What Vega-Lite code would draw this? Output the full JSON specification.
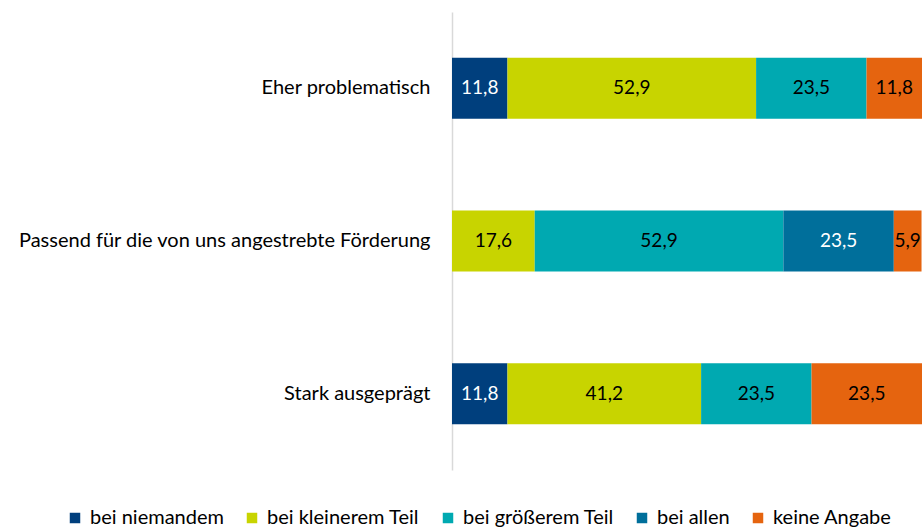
{
  "$schema": "https://vega.github.io/schema/vega-lite/v6.json",
  "width": 470,
  "height": 458,
  "autosize": {"type": "none"},
  "padding": {"left": 452, "top": 12, "right": 0, "bottom": 59},
  "background": "white",
  "config": {
    "view": {"stroke": null},
    "font": "Lato",
    "locale": {"number": {"decimal": ",", "thousands": ".", "grouping": [3], "currency": ["", " €"]}}
  },
  "data": {
    "values": [
      {"aussage": "Eher problematisch", "kategorie": "bei niemandem", "ord": 1, "wert": 11.8},
      {"aussage": "Eher problematisch", "kategorie": "bei kleinerem Teil", "ord": 2, "wert": 52.9},
      {"aussage": "Eher problematisch", "kategorie": "bei größerem Teil", "ord": 3, "wert": 23.5},
      {"aussage": "Eher problematisch", "kategorie": "keine Angabe", "ord": 5, "wert": 11.8},
      {"aussage": "Passend für die von uns angestrebte Förderung", "kategorie": "bei kleinerem Teil", "ord": 2, "wert": 17.6},
      {"aussage": "Passend für die von uns angestrebte Förderung", "kategorie": "bei größerem Teil", "ord": 3, "wert": 52.9},
      {"aussage": "Passend für die von uns angestrebte Förderung", "kategorie": "bei allen", "ord": 4, "wert": 23.5},
      {"aussage": "Passend für die von uns angestrebte Förderung", "kategorie": "keine Angabe", "ord": 5, "wert": 5.9},
      {"aussage": "Stark ausgeprägt", "kategorie": "bei niemandem", "ord": 1, "wert": 11.8},
      {"aussage": "Stark ausgeprägt", "kategorie": "bei kleinerem Teil", "ord": 2, "wert": 41.2},
      {"aussage": "Stark ausgeprägt", "kategorie": "bei größerem Teil", "ord": 3, "wert": 23.5},
      {"aussage": "Stark ausgeprägt", "kategorie": "keine Angabe", "ord": 5, "wert": 23.5}
    ]
  },
  "encoding": {
    "y": {
      "field": "aussage",
      "type": "nominal",
      "sort": ["Eher problematisch", "Passend für die von uns angestrebte Förderung", "Stark ausgeprägt"],
      "scale": {"paddingInner": 0.6, "paddingOuter": 0.3},
      "axis": {
        "title": null,
        "ticks": false,
        "labelFontSize": 20,
        "labelColor": "#000000",
        "labelPadding": 22,
        "labelLimit": 500,
        "domainColor": "#d9d9d9",
        "domainWidth": 1.5
      }
    }
  },
  "layer": [
    {
      "mark": {"type": "bar"},
      "encoding": {
        "x": {"field": "wert", "type": "quantitative", "stack": "zero", "scale": {"domain": [0, 100]}, "axis": null},
        "order": {"field": "ord", "type": "quantitative"},
        "color": {
          "field": "kategorie",
          "type": "nominal",
          "sort": ["bei niemandem", "bei kleinerem Teil", "bei größerem Teil", "bei allen", "keine Angabe"],
          "scale": {
            "domain": ["bei niemandem", "bei kleinerem Teil", "bei größerem Teil", "bei allen", "keine Angabe"],
            "range": ["#003f7d", "#c8d400", "#00a9b1", "#006f9b", "#e5640f"]
          },
          "legend": {
            "title": null,
            "orient": "none",
            "direction": "horizontal",
            "legendX": -387,
            "legendY": 496,
            "symbolType": "square",
            "symbolSize": 110,
            "symbolStrokeWidth": 0,
            "labelFontSize": 20,
            "labelColor": "#000000",
            "labelOffset": 5,
            "columnPadding": 18,
            "labelLimit": 300
          }
        }
      }
    },
    {
      "mark": {"type": "text", "fontSize": 19, "align": "center", "baseline": "middle"},
      "encoding": {
        "x": {"field": "wert", "type": "quantitative", "stack": "zero", "bandPosition": 0.5},
        "order": {"field": "ord", "type": "quantitative"},
        "detail": {"field": "kategorie"},
        "text": {"field": "wert", "type": "quantitative", "format": ".1f"},
        "color": {
          "condition": {"test": "datum.kategorie === 'bei niemandem' || datum.kategorie === 'bei allen'", "value": "#ffffff"},
          "value": "#000000"
        }
      }
    }
  ]
}
